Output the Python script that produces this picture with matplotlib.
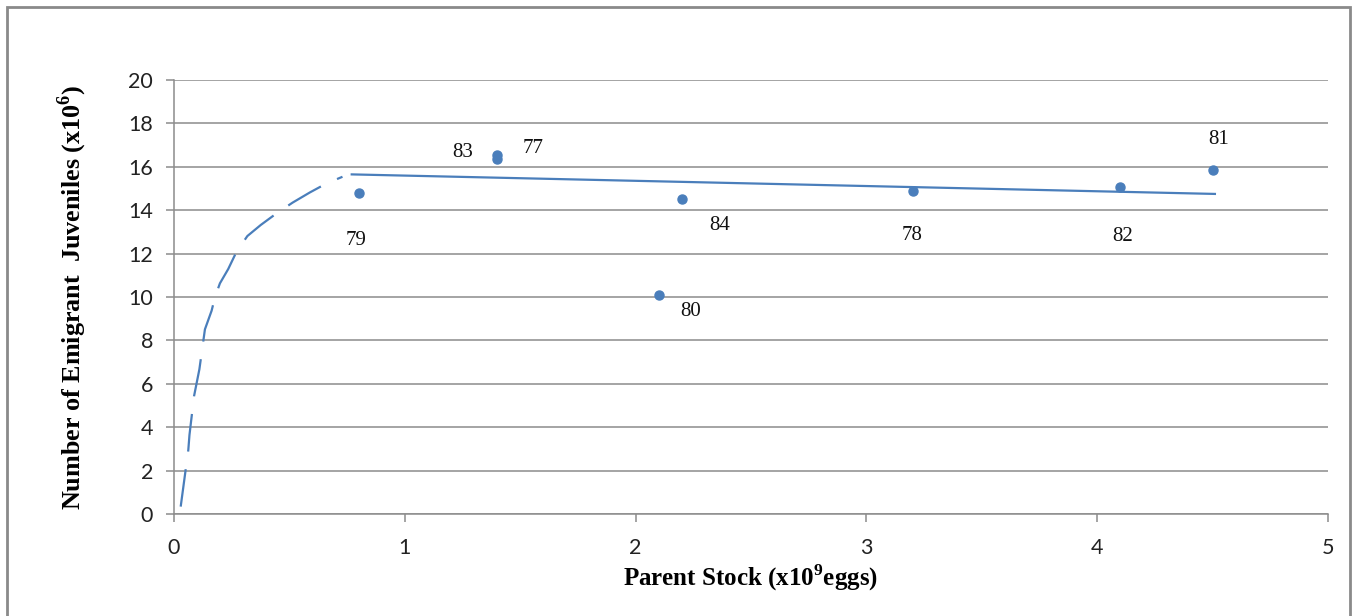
import matplotlib
matplotlib.use("Agg")
import matplotlib.pyplot as plt
from matplotlib.patches import Rectangle

plt.rcParams["mathtext.fontset"] = "custom"
plt.rcParams["mathtext.rm"] = "Liberation Serif"
plt.rcParams["mathtext.bf"] = "Liberation Serif:bold"

# ---- data ----
stock = [0.8, 1.4, 1.4, 2.2, 2.1, 3.2, 4.1, 4.5]
juveniles = [14.8, 16.55, 16.35, 14.5, 10.1, 14.9, 15.05, 15.85]
year_labels = ["79", "83", "77", "84", "80", "78", "82", "81"]
# label offsets in points
label_offsets = [(-2, -34), (-25, 2), (26, 8), (27, -19), (23, -12), (0, -32), (2, -35), (4, 22)]

trend_x = [0.77, 4.51]
trend_y = [15.65, 14.75]

curve_x = [0.029, 0.062, 0.067, 0.087, 0.110, 0.134, 0.163, 0.178, 0.199, 0.235,
           0.271, 0.318, 0.376, 0.445, 0.514, 0.589, 0.662, 0.730]
curve_y = [0.34, 2.95, 3.64, 5.44, 6.67, 8.51, 9.37, 10.01, 10.63, 11.29,
           12.09, 12.81, 13.32, 13.86, 14.35, 14.82, 15.24, 15.54]

xticks = [0, 1, 2, 3, 4, 5]
yticks = [0, 2, 4, 6, 8, 10, 12, 14, 16, 18, 20]

BLUE = "#4a7ebb"
GRID = "#8c8c8c"

fig = plt.figure(figsize=(13.56, 6.16), dpi=100)
ax = fig.add_axes([174/1356, 1-514/616, (1328-174)/1356, (514-80)/616])

ax.set_xlim(0, 5)
ax.set_ylim(0, 20)
ax.set_xticks(xticks)
ax.set_yticks(yticks)
ax.yaxis.grid(True, color=GRID, lw=1.1)
ax.set_axisbelow(True)
for s in ["top", "right"]:
    ax.spines[s].set_visible(False)
for s in ["left", "bottom"]:
    ax.spines[s].set_color(GRID)
    ax.spines[s].set_linewidth(1.1)
ax.tick_params(axis="both", direction="out", length=6, width=1.1, color=GRID,
               labelsize=15.5, labelcolor="#222222")
ax.tick_params(axis="y", pad=9)
ax.tick_params(axis="x", pad=11)
for lab in ax.get_xticklabels() + ax.get_yticklabels():
    lab.set_family("Lato")

ax.plot(curve_x, curve_y, color=BLUE, lw=1.6, dashes=(17, 8), solid_capstyle="butt",
        dash_capstyle="butt")
ax.plot(trend_x, trend_y, color=BLUE, lw=1.6)
ax.plot(stock, juveniles, "o", color=BLUE, ms=6.5, zorder=3)

for x, y, t, off in zip(stock, juveniles, year_labels, label_offsets):
    ax.annotate(t, (x, y), xytext=off, textcoords="offset points",
                ha="center", va="center", fontsize=15, family="Liberation Serif",
                color="#111111")

ax.set_xlabel(r"Parent Stock (x10$^{\mathbf{9}}$eggs)", family="Liberation Serif",
              fontweight="bold", fontsize=18, labelpad=2)
ax.set_ylabel(r"Number of Emigrant  Juveniles (x10$^{\mathbf{6}}$)", family="Liberation Serif",
              fontweight="bold", fontsize=18.8, labelpad=12)
ax.yaxis.set_label_coords(-(174 - 72) / (1328 - 174), 0.5)
ax.xaxis.set_label_coords(0.5, -(578 - 514) / (514 - 80))
ax.xaxis.label.set_va("center")
ax.yaxis.label.set_va("center")

fig.patches.append(Rectangle((7/1356, -0.05), (1350-7)/1356, 1.05-7/616,
                             transform=fig.transFigure, fill=False,
                             edgecolor="#8a8a8a", lw=2))

fig.savefig("out.png", dpi=100, facecolor="white")
